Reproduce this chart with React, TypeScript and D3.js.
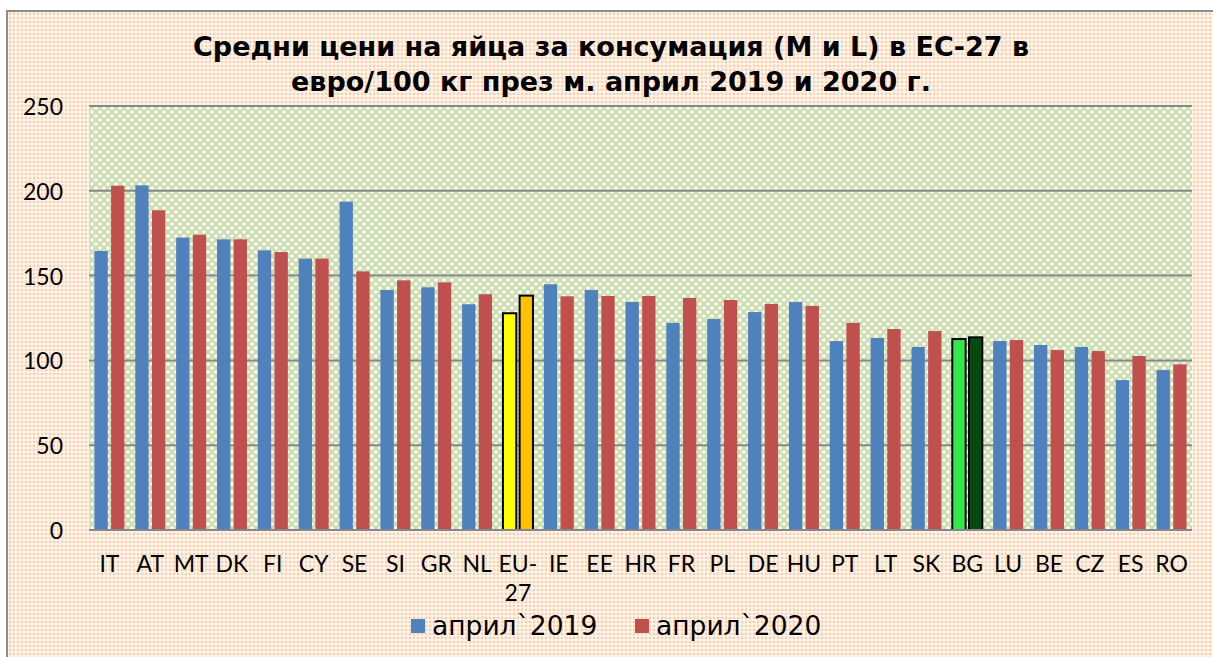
import React from 'react';
import * as d3 from 'd3';

const categories = ['IT','AT','MT','DK','FI','CY','SE','SI','GR','NL','EU-27','IE','EE','HR','FR','PL','DE','HU','PT','LT','SK','BG','LU','BE','CZ','ES','RO'];
const values2019 = [164.5,203.2,172.4,171.4,164.9,160.0,193.6,141.5,143.1,133.1,127.8,144.9,141.5,134.4,122.1,124.4,128.5,134.4,111.4,113.2,107.9,112.6,111.4,109.1,107.9,88.4,94.3];
const values2020 = [203.0,188.5,174.1,171.4,163.9,160.0,152.5,147.2,146.0,139.0,138.2,137.8,138.0,138.0,136.8,135.6,133.3,132.1,122.1,118.5,117.3,113.6,112.0,106.1,105.5,102.6,97.7];
const seriesNames = ['април`2019', 'април`2020'];
const yTicks = [0, 50, 100, 150, 200, 250];
const titleLines = ['Средни цени на яйца за консумация (М и L) в ЕС-27 в', 'евро/100 кг през м. април 2019 и 2020 г.'];

const seriesColors = ['#4f81bd', '#c0504d'];
const highlight: Record<string, string[]> = {
  'EU-27': ['#ffff00', '#ffc000'],
  'BG': ['#33e84b', '#074a10'],
};

const W = 1213, H = 657;
const plot = { left: 89, right: 1192, top: 106, bottom: 530 };

export default function App() {
  const x0 = d3.scaleBand<string>().domain(categories).range([plot.left, plot.right]).paddingInner(0).paddingOuter(0);
  const groupW = 30;
  const x1 = d3.scaleBand<number>().domain([0, 1]).range([0, groupW]).paddingInner(0.2).paddingOuter(0);
  const y = d3.scaleLinear().domain([0, 250]).range([plot.bottom, plot.top]);
  const off = (x0.bandwidth() - groupW) / 2;

  const series = [values2019, values2020];

  return (
    <svg width={W} height={H} style={{ position: 'absolute', left: 0, top: 0, display: 'block' }}>
      <defs>
        <pattern id="dots" width="4" height="4" patternUnits="userSpaceOnUse">
          <rect width="4" height="4" fill="#fff8f2" />
          <circle cx="2" cy="2" r="1.4" fill="#fbcfac" />
        </pattern>
        <pattern id="lattice" width="8" height="8" patternUnits="userSpaceOnUse">
          <rect width="8" height="8" fill="#fbfdf8" />
          <path d="M0,0 L8,8 M8,0 L0,8 M-2,6 L2,10 M6,-2 L10,2 M-2,2 L2,-2 M6,10 L10,6" stroke="#cbdcaf" strokeWidth="2.4" />
        </pattern>
      </defs>
      <rect x={0} y={0} width={W} height={H} fill="#ffffff" />
      <rect x={7} y={11} width={W + 20} height={H + 20} fill="url(#dots)" stroke="#8c8c8c" strokeWidth={2} />
      <rect x={plot.left} y={plot.top} width={plot.right - plot.left} height={plot.bottom - plot.top} fill="url(#lattice)" />

      {titleLines.map((t, i) => (
        <text key={i} x={611} y={56 + i * 35} textAnchor="middle" fontFamily="'DejaVu Sans', Verdana, sans-serif" fontWeight="bold" fontSize={27} fill="#000">{t}</text>
      ))}

      {yTicks.map((t) => (
        <g key={t}>
          <line x1={plot.left} x2={plot.right} y1={y(t)} y2={y(t)} stroke="#878787" strokeWidth={2} />
          <text x={63} y={y(t)} textAnchor="end" dominantBaseline="central" fontFamily="Lato, 'Open Sans', sans-serif" fontSize={23} fill="#000">{t}</text>
        </g>
      ))}

      {categories.map((c, ci) => (
        <g key={c}>
          {series.map((vals, si) => {
            const hl = highlight[c];
            const bx = (x0(c) as number) + off + (x1(si) as number);
            const by = y(vals[ci]);
            return (
              <rect key={si} x={bx} y={by} width={x1.bandwidth()} height={y(0) - by}
                fill={hl ? hl[si] : seriesColors[si]}
                stroke={hl ? '#000' : 'none'} strokeWidth={hl ? 2 : 0} />
            );
          })}
        </g>
      ))}
      <line x1={plot.left} x2={plot.right} y1={y(0)} y2={y(0)} stroke="#878787" strokeWidth={2} />

      {categories.map((c) => {
        const cx = (x0(c) as number) + x0.bandwidth() / 2;
        const idx = c.indexOf('-');
        const lines = idx >= 0 ? [c.slice(0, idx + 1), c.slice(idx + 1)] : [c];
        return (
          <text key={c} x={cx} y={572} textAnchor="middle" fontFamily="Lato, 'Open Sans', sans-serif" fontSize={23} fill="#000">
            {lines.map((l, i) => (
              <tspan key={i} x={cx} dy={i === 0 ? 0 : 29}>{l}</tspan>
            ))}
          </text>
        );
      })}

      {seriesNames.map((s, i) => {
        const lx = i === 0 ? 411 : 635;
        return (
          <g key={s}>
            <rect x={lx} y={619} width={14} height={14} fill={seriesColors[i]} />
            <text x={lx + 21} y={635} fontFamily="'DejaVu Sans', Verdana, sans-serif" fontSize={26.5} fill="#000">{s}</text>
          </g>
        );
      })}
    </svg>
  );
}
